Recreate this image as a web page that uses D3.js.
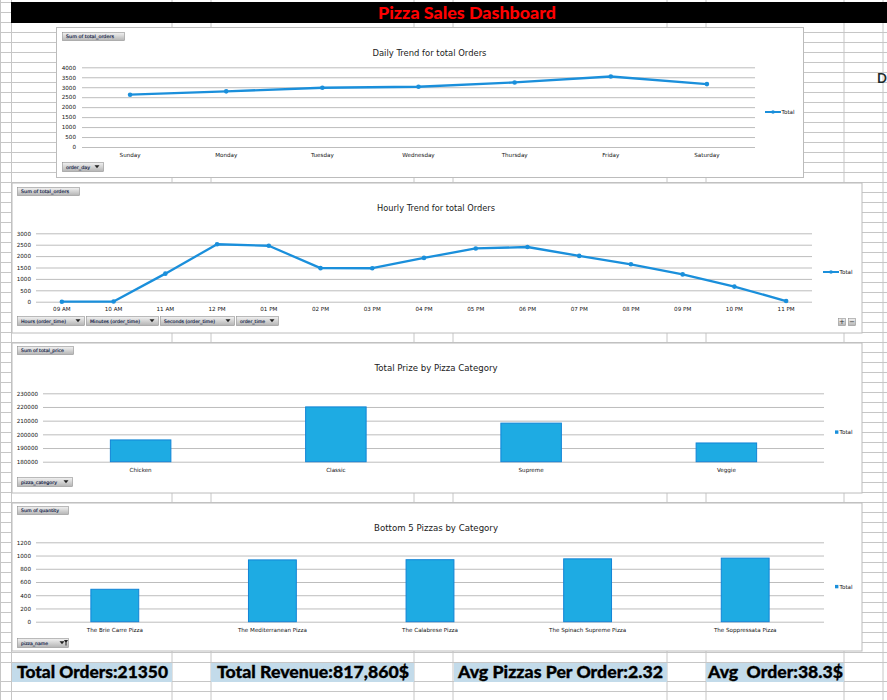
<!DOCTYPE html>
<html><head><meta charset="utf-8">
<script src="https://cdn.jsdelivr.net/npm/d3@7"></script>
<style>body{margin:0;background:#fff;overflow:hidden} svg{display:block}</style>
</head><body><svg id="c" width="887" height="700"></svg>
<script>
// ---------- DATA ----------
const days = ["Sunday","Monday","Tuesday","Wednesday","Thursday","Friday","Saturday"];
const dailyOrders = [2624,2794,2973,3024,3239,3538,3158];
const dailyTicks = [0,500,1000,1500,2000,2500,3000,3500,4000];

const hourLabels = ["09 AM","10 AM","11 AM","12 PM","01 PM","02 PM","03 PM","04 PM","05 PM","06 PM","07 PM","08 PM","09 PM","10 PM","11 PM"];
const hourlyOrders = [1,8,1231,2520,2455,1472,1468,1920,2336,2399,2009,1642,1198,663,28];
const hourlyTicks = [0,500,1000,1500,2000,2500,3000];

const categories = ["Chicken","Classic","Supreme","Veggie"];
const categoryRevenue = [195919.5,220053.1,208197,193690.45];
const revenueTicks = [180000,190000,200000,210000,220000,230000];

const bottomPizzas = ["The Brie Carre Pizza","The Mediterranean Pizza","The Calabrese Pizza","The Spinach Supreme Pizza","The Soppressata Pizza"];
const bottomQuantity = [490,934,937,950,961];
const quantityTicks = [0,200,400,600,800,1000,1200];

const dashTitle = "Pizza Sales Dashboard";
const chartTitles = ["Daily Trend for total Orders","Hourly Trend for total Orders","Total Prize by Pizza Category","Bottom 5 Pizzas by Category"];
const kpiTexts = ["Total Orders:21350","Total Revenue:817,860$","Avg Pizzas Per Order:2.32","Avg  Order:38.3$"];
const legendName = "Total";

// ---------- STYLE ----------
const FONT = "'DejaVu Sans', sans-serif";
const LINE = "#1a8fdb";
const BAR = "#1eabe3", BAR_STROKE = "#1284d6";
const GRID = "#c6c6c6", CGRID = "#bdbdbd";

const svg = d3.select("#c");
const defs = svg.append("defs");
const grad = defs.append("linearGradient").attr("id","btn").attr("x1",0).attr("y1",0).attr("x2",0).attr("y2",1);
grad.append("stop").attr("offset","0%").attr("stop-color","#f2f2f2");
grad.append("stop").attr("offset","100%").attr("stop-color","#b4b4b4");

// ---------- SPREADSHEET GRID ----------
const colX = [0.5,11.5,172,211,414,453,667,706,844,883];
const rowY = [];
for (let y = 2.5; y <= 662.5; y += 10) rowY.push(y);
rowY.push(681.5, 691.5);
svg.append("g").selectAll("line").data(rowY).join("line")
  .attr("x1",0).attr("x2",887).attr("y1",d=>d).attr("y2",d=>d).attr("stroke",GRID);
svg.append("g").selectAll("line").data(colX).join("line")
  .attr("x1",d=>d).attr("x2",d=>d).attr("y1",0).attr("y2",700).attr("stroke",GRID);

// title bar
svg.append("rect").attr("x",11).attr("y",2).attr("width",876).attr("height",21).attr("fill","#000");
svg.append("text").attr("x",467).attr("y",18.5).attr("text-anchor","middle")
  .attr("font-family","Lato, sans-serif").attr("font-weight",900).attr("font-size",17)
  .attr("fill","#ff0000").attr("textLength",178).attr("lengthAdjust","spacingAndGlyphs").text(dashTitle);

// glyph at right edge
svg.append("text").attr("x",877).attr("y",83).attr("font-family","Lato, sans-serif").attr("font-weight",700)
  .attr("font-size",13).attr("fill","#1d2b2b").text("D");

// ---------- HELPERS ----------
function box(x,y,w,h){
  svg.append("rect").attr("x",x+0.5).attr("y",y+0.5).attr("width",w).attr("height",h)
    .attr("fill","#fff").attr("stroke","#bcbcbc");
}
function button(x,y,w,h,label,kind,tw){
  const g = svg.append("g");
  g.append("rect").attr("x",x+0.5).attr("y",y+0.5).attr("width",w).attr("height",h)
    .attr("fill","url(#btn)").attr("stroke","#8f8f8f").attr("stroke-width",0.6);
  g.append("text").attr("x",x+4).attr("y",y+h-2.2).attr("font-family",FONT).attr("font-size",4.6)
    .attr("fill","#0f1a44").attr("stroke","#0f1a44").attr("stroke-width",0.15)
    .attr("textLength",tw).attr("lengthAdjust","spacingAndGlyphs").text(label);
  if (kind==="drop" || kind==="filter"){
    const cx = x+w-6, cy = y+h/2;
    g.append("path").attr("d",`M${cx-2.5},${cy-1.3}L${cx+2.5},${cy-1.3}L${cx},${cy+1.7}Z`).attr("fill","#222");
    if (kind==="filter"){
      g.append("path").attr("d",`M${cx+2},${cy-2.5}L${cx+6},${cy-2.5}L${cx+4.5},${cy}L${cx+4.5},${cy+3}L${cx+3.5},${cy+3}L${cx+3.5},${cy}Z`).attr("fill","#222");
    }
  }
}
function title(txt,cx,y,tw){
  svg.append("text").attr("x",cx).attr("y",y).attr("text-anchor","middle").attr("font-family",FONT)
    .attr("font-size",8.6).attr("fill","#1a1a1a").attr("textLength",tw).attr("lengthAdjust","spacingAndGlyphs").text(txt);
}
function yAxis(scale,ticks,left,right,pad){
  const g = svg.append("g").attr("transform",`translate(${left},0)`)
    .call(d3.axisLeft(scale).tickValues(ticks).tickSize(-(right-left)).tickPadding(pad).tickFormat(d3.format("d")));
  g.select(".domain").remove();
  g.selectAll(".tick line").attr("stroke",CGRID).attr("stroke-width",1);
  g.selectAll(".tick text").attr("font-family",FONT).attr("font-size",5.6).attr("fill","#111");
  return g;
}
function xLabels(scale,labels,y){
  svg.append("g").selectAll("text").data(labels).join("text")
    .attr("x",d=>scale(d)+scale.bandwidth()/2).attr("y",y).attr("text-anchor","middle")
    .attr("font-family",FONT).attr("font-size",5.6).attr("fill","#111").text(d=>d);
}
function lineSeries(x,y,labels,values){
  const pts = labels.map((d,i)=>[x(d)+x.bandwidth()/2, y(values[i])]);
  svg.append("path").attr("d",d3.line()(pts)).attr("fill","none").attr("stroke",LINE)
    .attr("stroke-width",2.3).attr("stroke-linejoin","round");
  svg.append("g").selectAll("circle").data(pts).join("circle")
    .attr("cx",d=>d[0]).attr("cy",d=>d[1]).attr("r",2.3).attr("fill",LINE);
}
function barSeries(x,y,labels,values,frac,base){
  svg.append("g").selectAll("rect").data(labels).join("rect")
    .attr("x",d=>x(d)+x.bandwidth()*(1-frac)/2+0.5).attr("width",x.bandwidth()*frac-1)
    .attr("y",(d,i)=>y(values[i])).attr("height",(d,i)=>y(base)-y(values[i]))
    .attr("fill",BAR).attr("stroke",BAR_STROKE).attr("stroke-width",1);
}
function legendLine(x,y){
  svg.append("line").attr("x1",x).attr("x2",x+16).attr("y1",y).attr("y2",y).attr("stroke",LINE).attr("stroke-width",2);
  svg.append("circle").attr("cx",x+8).attr("cy",y).attr("r",1.8).attr("fill",LINE);
  svg.append("text").attr("x",x+16.5).attr("y",y+2).attr("font-family",FONT).attr("font-size",5.6).attr("fill","#111").text(legendName);
}
function legendSquare(x,y){
  svg.append("rect").attr("x",x).attr("y",y-1.6).attr("width",3.4).attr("height",3.4).attr("fill",LINE);
  svg.append("text").attr("x",x+4.5).attr("y",y+2).attr("font-family",FONT).attr("font-size",5.6).attr("fill","#111").text(legendName);
}

// ---------- CHART 1: Daily ----------
box(56,27,747,150);
button(62,32,62,8,"Sum of total_orders","none",48);
title(chartTitles[0],429.5,56,114);
{
  const x = d3.scaleBand().domain(days).range([82,755]);
  const y = d3.scaleLinear().domain([0,4000]).range([147,67.3]);
  yAxis(y,dailyTicks,82,755,6);
  xLabels(x,days,157);
  lineSeries(x,y,days,dailyOrders);
  legendLine(765,112);
}
button(62,162,41,9,"order_day","drop",24);

// ---------- CHART 2: Hourly ----------
box(11.5,182.5,850,150);
button(17,187,62,8,"Sum of total_orders","none",48);
title(chartTitles[1],436,211,118);
{
  const x = d3.scaleBand().domain(hourLabels).range([36,812]);
  const y = d3.scaleLinear().domain([0,3000]).range([301.7,233.3]);
  yAxis(y,hourlyTicks,36,812,5);
  xLabels(x,hourLabels,311);
  lineSeries(x,y,hourLabels,hourlyOrders);
  legendLine(823,272);
}
button(17,316,67,9,"Hours (order_time)","drop",45);
button(86,316,72,9,"Minutes (order_time)","drop",50);
button(160,316,74,9,"Seconds (order_time)","drop",51);
button(236,316,42,9,"order_time","drop",25);
// +/- buttons
[[838,"+"],[848,"\u2212"]].forEach(([bx,s])=>{
  svg.append("rect").attr("x",bx+0.5).attr("y",318.5).attr("width",7).attr("height",7).attr("fill","url(#btn)").attr("stroke","#8f8f8f").attr("stroke-width",0.6);
  svg.append("text").attr("x",bx+4).attr("y",324.3).attr("text-anchor","middle").attr("font-family",FONT).attr("font-size",7).attr("fill","#333").text(s);
});

// ---------- CHART 3: Category revenue ----------
box(11.5,342.5,850,150);
button(17,346,56,8,"Sum of total_price","none",43);
title(chartTitles[2],436,371,123);
{
  const x = d3.scaleBand().domain(categories).range([43,824]);
  const y = d3.scaleLinear().domain([180000,230000]).range([461.7,393.3]);
  yAxis(y,revenueTicks,43,824,5);
  barSeries(x,y,categories,categoryRevenue,0.315,180000);
  xLabels(x,categories,472);
  legendSquare(835,432);
}
button(17,477,55,9,"pizza_category","drop",36);

// ---------- CHART 4: Bottom 5 ----------
box(11.5,502.5,850,148);
button(17,506,51,8,"Sum of quantity","none",38);
title(chartTitles[3],436,531,124);
{
  const x = d3.scaleBand().domain(bottomPizzas).range([36,824]);
  const y = d3.scaleLinear().domain([0,1200]).range([621.7,542.3]);
  yAxis(y,quantityTicks,36,824,5);
  barSeries(x,y,bottomPizzas,bottomQuantity,0.31,0);
  xLabels(x,bottomPizzas,632);
  legendSquare(835,586.5);
}
button(17,638,51,9,"pizza_name","filter",27);

// ---------- KPI ROW ----------
const kpiCells = [[12,172,17,151],[211,414,217,192],[454,667,458,205],[706,844,708,135]];
svg.append("g").selectAll("rect").data(kpiTexts).join("rect")
  .attr("x",(d,i)=>kpiCells[i][0]).attr("width",(d,i)=>kpiCells[i][1]-kpiCells[i][0])
  .attr("y",663).attr("height",19).attr("fill","#c3dbea");
svg.append("g").selectAll("text").data(kpiTexts).join("text")
  .attr("x",(d,i)=>kpiCells[i][2]).attr("y",678).attr("font-family","Lato, sans-serif").attr("font-weight",900)
  .attr("font-size",16.5).attr("fill","#000").attr("stroke","#000").attr("stroke-width",0.3)
  .style("white-space","pre").attr("textLength",(d,i)=>kpiCells[i][3]).attr("lengthAdjust","spacingAndGlyphs").text(d=>d);
</script></body></html>
